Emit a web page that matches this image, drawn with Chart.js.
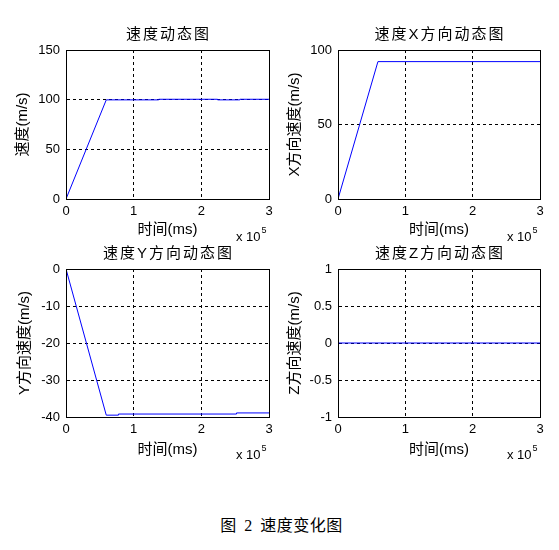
<!DOCTYPE html>
<html>
<head>
<meta charset="utf-8">
<script src="https://cdn.jsdelivr.net/npm/chart.js@4/dist/chart.umd.min.js"></script>
<style>
  body { margin: 0; background: #fff; }
  #wrap { position: relative; width: 559px; height: 550px; overflow: hidden; }
  .box { position: absolute; }
  #caption { position: absolute; left: 2px; width: 559px; top: 512px; text-align: center;
             font: 16px "Liberation Serif", "Noto Sans CJK SC"; color: #000;
             letter-spacing: 0.5px; word-spacing: 3px; }
</style>
</head>
<body>
<div id="wrap">
  <div class="box" style="left:0;top:0;width:280px;height:250px"><canvas id="c1"></canvas></div>
  <div class="box" style="left:280px;top:0;width:279px;height:250px"><canvas id="c2"></canvas></div>
  <div class="box" style="left:0;top:235px;width:280px;height:245px"><canvas id="c3"></canvas></div>
  <div class="box" style="left:280px;top:235px;width:279px;height:245px"><canvas id="c4"></canvas></div>
  <div id="caption">图 2 速度变化图</div>
</div>
<script>
// time in ms, values in m/s
var speedT = [0, 59500, 137000, 137000, 224000, 224000, 257000, 257000, 300000];
var speedV = [0, 99.8, 99.8, 100.4, 100.4, 99.8, 99.8, 100.4, 100.4];

var vxT = [0, 59300, 300000];
var vxV = [0, 92.2, 92.2];

var vyT = [0, 59500, 77500, 77500, 252000, 252000, 300000];
var vyV = [0, -39.5, -39.5, -39.2, -39.2, -38.9, -38.9];

var vzT = [0, 300000];
var vzV = [0, 0];

var xTicks = [0, 100000, 200000, 300000];

var FONT = '"Liberation Sans", "Noto Sans CJK SC", sans-serif';

function pts(t, v) {
  var out = [];
  for (var i = 0; i < t.length; i++) out.push({x: t[i], y: v[i]});
  return out;
}

// box, title above the plot and the "x 10^5" multiplier
var matlabPlugin = {
  id: 'matlabBox',
  afterDraw: function(chart) {
    var a = chart.chartArea, ctx = chart.ctx;
    var o = chart.options.plugins.matlabBox;
    ctx.save();
    ctx.strokeStyle = '#000';
    ctx.lineWidth = 1;
    ctx.setLineDash([]);
    ctx.strokeRect(Math.round(a.left) + 0.5, Math.round(a.top) + 0.5,
                   Math.round(a.right - a.left), Math.round(a.bottom - a.top));
    ctx.fillStyle = '#000';
    ctx.font = '15px ' + FONT;
    ctx.letterSpacing = '2px';
    ctx.textAlign = 'center';
    ctx.textBaseline = 'middle';
    ctx.fillText(o.title, (a.left + a.right) / 2 + 1, a.top - 15);
    ctx.letterSpacing = '0px';
    ctx.font = '13px ' + FONT;
    ctx.textAlign = 'left';
    ctx.fillText('x 10', a.right - 33, a.bottom + 38);
    var w = ctx.measureText('x 10').width;
    ctx.font = '9px ' + FONT;
    ctx.fillText('5', a.right - 33 + w + 1, a.bottom + 32);
    ctx.restore();
  }
};

function makeChart(id, t, v, o) {
  new Chart(document.getElementById(id), {
    type: 'line',
    data: {
      datasets: [{
        data: pts(t, v),
        borderColor: '#0000ff',
        borderWidth: 1,
        pointRadius: 0,
        fill: false,
        tension: 0
      }]
    },
    options: {
      responsive: true,
      maintainAspectRatio: false,
      animation: false,
      layout: { padding: o.pad },
      plugins: {
        legend: { display: false },
        tooltip: { enabled: false },
        matlabBox: { title: o.title }
      },
      scales: {
        x: {
          type: 'linear',
          min: 0, max: 300000,
          afterBuildTicks: function(s) { s.ticks = xTicks.map(function(x) { return {value: x}; }); },
          afterFit: function(s) { s.height = 45; },
          grid: { color: '#000', lineWidth: 1, drawTicks: false },
          border: { display: true, color: '#000', dash: [3, 3] },
          ticks: { color: '#000', padding: 5, font: { size: 13, family: FONT },
                   callback: function(val) { return String(val / 100000); } },
          title: { display: true, text: '时间(ms)', color: '#000',
                   font: { size: 15, family: FONT }, padding: { top: 0, bottom: o.xtp } }
        },
        y: {
          min: o.ymin, max: o.ymax,
          afterFit: function(s) { s.width = o.yw; },
          grid: { color: '#000', lineWidth: 1, drawTicks: false },
          border: { display: true, color: '#000', dash: [3, 3] },
          ticks: { color: '#000', padding: 6, stepSize: o.step, font: { size: 13, family: FONT },
                   callback: function(val) { return String(val); } },
          title: { display: true, text: o.ylabel, color: '#000',
                   font: { size: 15, family: FONT }, padding: { top: o.ytp, bottom: 0 } }
        }
      }
    },
    plugins: [matlabPlugin]
  });
}

makeChart('c1', speedT, speedV, {
  title: '速度动态图', ylabel: '速度(m/s)', ymin: 0, ymax: 150, step: 50,
  pad: {left: 0, right: 11, top: 50, bottom: 6}, yw: 66, ytp: 14, xtp: 5
});
makeChart('c2', vxT, vxV, {
  title: '速度X方向动态图', ylabel: 'X方向速度(m/s)', ymin: 0, ymax: 100, step: 50,
  pad: {left: 0, right: 19, top: 50, bottom: 6}, yw: 58, ytp: 6, xtp: 5
});
makeChart('c3', vyT, vyV, {
  title: '速度Y方向动态图', ylabel: 'Y方向速度(m/s)', ymin: -40, ymax: 0, step: 10,
  pad: {left: 0, right: 11, top: 34, bottom: 18}, yw: 66, ytp: 16, xtp: 3
});
makeChart('c4', vzT, vzV, {
  title: '速度Z方向动态图', ylabel: 'Z方向速度(m/s)', ymin: -1, ymax: 1, step: 0.5,
  pad: {left: 0, right: 19, top: 34, bottom: 18}, yw: 58, ytp: 6, xtp: 3
});
</script>
</body>
</html>
